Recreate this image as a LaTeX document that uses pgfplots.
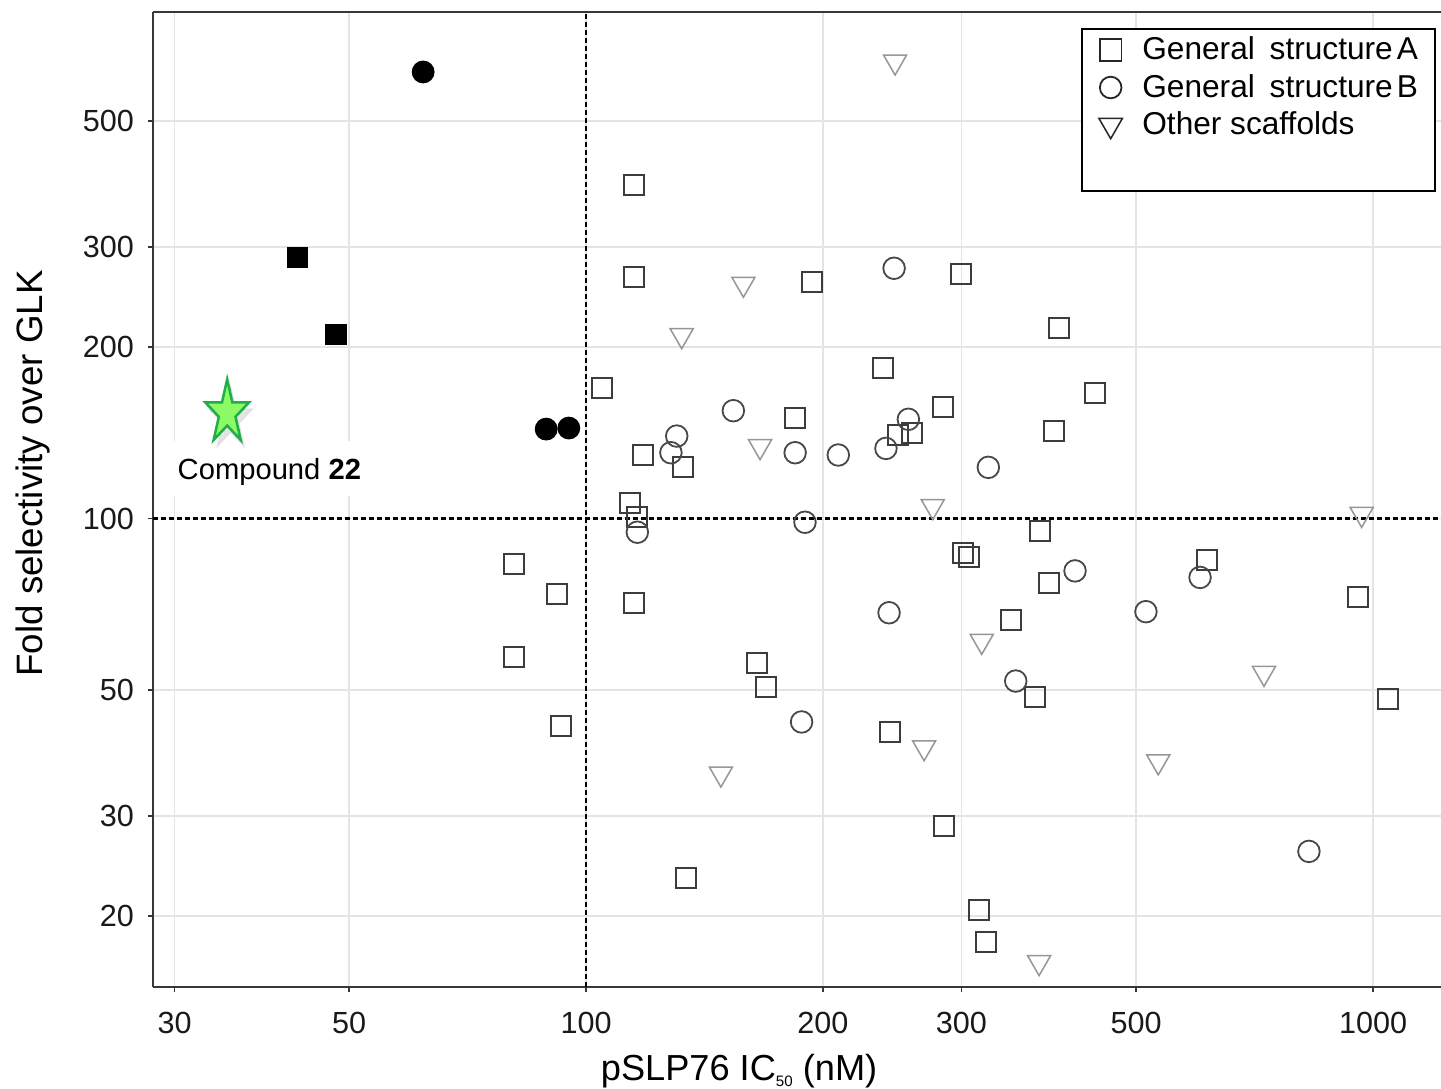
\documentclass[border=0pt]{standalone}
\usepackage{pgfplots}
\pgfplotsset{compat=1.18}
\usepackage{fontspec}
\setmainfont{Liberation Sans}

\definecolor{sqc}{RGB}{60,60,60}
\definecolor{cic}{RGB}{72,72,72}
\definecolor{trc}{RGB}{150,150,150}
\definecolor{gridc}{RGB}{228,228,228}
\definecolor{axc}{RGB}{55,55,55}
\definecolor{starfill}{RGB}{140,250,100}
\definecolor{stardraw}{RGB}{30,175,75}

% filled five-pointed star
\pgfdeclareplotmark{fstar}{%
  \pgfpathmoveto{\pgfpointpolar{90}{\pgfplotmarksize}}%
  \pgfpathlineto{\pgfpointpolar{126}{0.382*\pgfplotmarksize}}%
  \pgfpathlineto{\pgfpointpolar{162}{\pgfplotmarksize}}%
  \pgfpathlineto{\pgfpointpolar{198}{0.382*\pgfplotmarksize}}%
  \pgfpathlineto{\pgfpointpolar{234}{\pgfplotmarksize}}%
  \pgfpathlineto{\pgfpointpolar{270}{0.382*\pgfplotmarksize}}%
  \pgfpathlineto{\pgfpointpolar{306}{\pgfplotmarksize}}%
  \pgfpathlineto{\pgfpointpolar{342}{0.382*\pgfplotmarksize}}%
  \pgfpathlineto{\pgfpointpolar{18}{\pgfplotmarksize}}%
  \pgfpathlineto{\pgfpointpolar{54}{0.382*\pgfplotmarksize}}%
  \pgfpathclose
  \pgfusepathqfillstroke
}

\begin{document}
\begin{tikzpicture}
\begin{axis}[
  at={(15.25mm,10.1mm)}, anchor=south west,
  scale only axis, width=130.75mm, height=97.5mm,
  xmode=log, ymode=log,
  xmin=28.13, xmax=1290, ymin=15.02, ymax=776.6,
  axis x line*=bottom, axis y line*=left,
  axis line style={draw=axc, line width=0.2mm},
  xtick={30,50,100,200,300,500,1000},
  xticklabels={30,50,100,200,300,500,1000},
  ytick={20,30,50,100,200,300,500},
  yticklabels={20,30,50,100,200,300,500},
  xminorticks=false, yminorticks=false,
  tick align=outside, major tick length=0.5mm,
  tick style={draw=axc, line width=0.15mm},
  grid=major, major grid style={draw=gridc, line width=0.15mm},
  tick label style={font=\fontsize{8.7}{10}\selectfont, text=black!90},
  xticklabel style={anchor=north, inner ysep=0pt, yshift=-1.9mm},
  yticklabel style={anchor=east, inner xsep=0pt, xshift=-1.3mm},
  xlabel={pSLP76 IC\raisebox{-0.6mm}{\fontsize{4.3}{5}\selectfont 50} (nM)},
  ylabel={Fold selectivity over GLK},
  every axis x label/.style={at={(axis description cs:0.4486,-0.0954)}, anchor=base,
    font=\fontsize{10.3}{12}\selectfont},
  every axis y label/.style={at={(axis description cs:-0.0845,0.5267)}, anchor=base,
    rotate=90, font=\fontsize{10.45}{12}\selectfont},
  legend style={at={(rel axis cs:0.7101,0.9836)}, anchor=north west,
    draw=black, line width=0.2mm, fill=white,
    inner xsep=1.7mm, inner ysep=0.2mm, row sep=0pt, column sep=2.0mm,
    nodes={inner sep=0pt, text height=2.835mm, text depth=0.935mm,
      font=\fontsize{9}{10}\selectfont}},
  legend cell align=left,
  legend image code/.code={\draw[#1] plot coordinates {(0cm,0cm)};},
]

% threshold lines
\addplot[forget plot, black, line width=0.22mm, dash pattern=on 0.5mm off 0.3mm]
  coordinates {(100,15.02) (100,776.6)};
\addplot[forget plot, black, line width=0.22mm, dash pattern=on 0.5mm off 0.3mm]
  coordinates {(28.13,100) (1290,100)};

% General structure A
\addplot[forget plot, only marks, mark=square, mark size=1mm, draw=sqc, line width=0.2mm]
  coordinates {
  (115.1,385.7) (115.1,266.1) (193.9,260.8) (299.3,268.9) (399.6,215.9)
  (238.7,184.1) (104.9,169.7) (443.5,166.0) (284.0,157.2) (184.4,150.0)
  (393.4,142.5) (259.3,141.2) (249.4,140.0) (118.0,129.3) (132.9,123.0)
  (113.7,106.6) (116.0,100.7) (301.6,87.0) (306.9,85.7) (377.6,95.2)
  (388.0,77.1) (615.9,84.5) (80.9,83.2) (91.8,73.6) (115.1,71.0)
  (346.8,66.3) (956.2,72.9) (80.9,57.2) (164.8,55.8) (169.2,50.5)
  (372.1,48.6) (1045.8,48.1) (92.9,43.2) (243.4,42.2) (285.0,28.8)
  (134.0,23.3) (316.1,20.5) (322.0,18.0)
  };

% General structure B
\addplot[forget plot, only marks, mark=o, mark size=1.08mm, draw=cic, line width=0.18mm]
  coordinates {
  (246.3,275.3) (153.9,154.7) (256.8,149.4) (130.4,139.6) (128.2,130.5)
  (184.4,130.5) (209.2,129.3) (240.5,132.8) (324.5,123.0) (116.2,94.6)
  (189.8,98.5) (418.2,80.9) (602.9,78.8) (242.7,68.3) (514.6,68.6)
  (351.6,51.8) (187.9,43.9) (829.1,26.0)
  };

% Other scaffolds
\addplot[forget plot, only marks, mark=triangle, mark size=1.33mm, draw=trc, line width=0.15mm,
  mark options={rotate=180}]
  coordinates {
  (247.0,635.0) (158.5,258.3) (132.3,209.8) (166.4,133.9) (275.8,105.1)
  (967.4,101.8) (318.3,60.9) (727.0,53.5) (268.9,39.6) (148.4,35.6)
  (533.5,37.4) (376.5,16.6)
  };

% highlighted compounds
\addplot[forget plot, only marks, mark=*, mark size=1.07mm, draw=black, fill=black]
  coordinates {(62.1,609.2) (89.0,143.6) (95.1,144.2)};
\addplot[forget plot, only marks, mark=square*, mark size=1mm, draw=black, fill=black]
  coordinates {(43.0,287.8) (48.1,210.7)};

% compound 22
\addplot[forget plot, only marks, mark=fstar, mark size=2.3mm,
  mark options={yscale=1.46, xshift=0.35mm, yshift=-0.45mm, fill=black!30, draw=black!20, opacity=0.35}]
  coordinates {(35.0,153.4)};
\addplot[forget plot, only marks, mark=fstar, mark size=2.3mm, line width=0.25mm,
  mark options={yscale=1.46, fill=starfill, draw=stardraw}]
  coordinates {(35.0,153.4)};
\node[fill=white, inner ysep=0pt, inner xsep=0.5mm, text height=3.9mm, text depth=1.6mm,
  anchor=base, font=\fontsize{8.3}{10}\selectfont] at (axis cs:39.6,116.9) {Compound \textbf{22}};

\draw[axc, line width=0.2mm] (rel axis cs:0,1) -- (rel axis cs:1,1);

\addlegendimage{only marks, mark=square, mark size=1.08mm, draw=black!85, line width=0.18mm}
\addlegendentry{General\hspace{0.47em}structure\hspace{0.13em}A}
\addlegendimage{only marks, mark=o, mark size=1.08mm, draw=black!85, line width=0.18mm}
\addlegendentry{General\hspace{0.47em}structure\hspace{0.13em}B}
\addlegendimage{only marks, mark=triangle, mark size=1.35mm, draw=black!85, line width=0.15mm, mark options={rotate=180}}
\addlegendentry{Other scaffolds}
\addlegendimage{empty legend}
\addlegendentry[text depth=1.7mm]{}
\end{axis}
\pgfresetboundingbox
\path[use as bounding box] (0,0) rectangle (144.1mm,108.8mm);
\end{tikzpicture}
\end{document}
